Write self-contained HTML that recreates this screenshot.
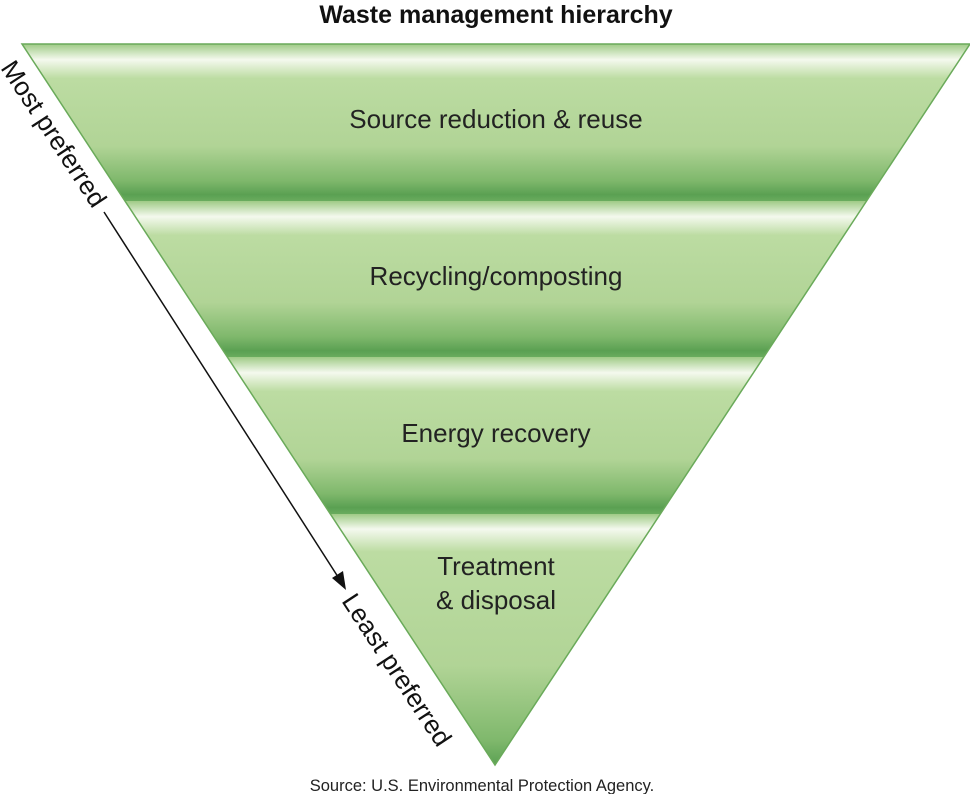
<!DOCTYPE html>
<html><head><meta charset="utf-8"><style>
html,body{margin:0;padding:0;background:#fff;}
svg{display:block;font-family:"Liberation Sans",sans-serif;}
</style></head><body>
<svg width="970" height="794" viewBox="0 0 970 794" xmlns="http://www.w3.org/2000/svg">
<defs>
<clipPath id="tri"><polygon points="22,44 970,44 495,765"/></clipPath>
<linearGradient id="band" x1="0" y1="0" x2="0" y2="1">
<stop offset="0" stop-color="#9fcb86"/>
<stop offset="0.1" stop-color="#f4f9ee"/>
<stop offset="0.22" stop-color="#bcdca2"/>
<stop offset="0.65" stop-color="#b1d496"/>
<stop offset="0.87" stop-color="#7fb86c"/>
<stop offset="0.96" stop-color="#5aa052"/>
<stop offset="1" stop-color="#6aac5e"/>
</linearGradient>
<linearGradient id="band4" x1="0" y1="0" x2="0" y2="1">
<stop offset="0" stop-color="#9fcb86"/>
<stop offset="0.06" stop-color="#f4f9ee"/>
<stop offset="0.15" stop-color="#bcdca2"/>
<stop offset="0.6" stop-color="#b1d496"/>
<stop offset="0.9" stop-color="#7fb86c"/>
<stop offset="1" stop-color="#5aa052"/>
</linearGradient>
</defs>
<text x="496" y="23" text-anchor="middle" font-size="25" font-weight="bold" fill="#111">Waste management hierarchy</text>
<g clip-path="url(#tri)">
<rect x="0" y="44" width="970" height="157" fill="url(#band)"/>
<rect x="0" y="201" width="970" height="156" fill="url(#band)"/>
<rect x="0" y="357" width="970" height="157" fill="url(#band)"/>
<rect x="0" y="514" width="970" height="252" fill="url(#band4)"/>
</g>
<polygon points="22,44 970,44 495,765" fill="none" stroke="#6aaa5a" stroke-width="1.5"/>
<g font-size="26" fill="#222" text-anchor="middle">
<text x="496" y="128">Source reduction &amp; reuse</text>
<text x="496" y="285">Recycling/composting</text>
<text x="496" y="442">Energy recovery</text>
<text x="496" y="575">Treatment</text>
<text x="496" y="609">&amp; disposal</text>
</g>
<g font-size="26" fill="#111">
<text transform="translate(0,68) rotate(56.7)">Most preferred</text>
<text transform="translate(341,601) rotate(56.7)">Least preferred</text>
</g>
<line x1="104" y1="212" x2="340" y2="580" stroke="#111" stroke-width="1.5"/>
<polygon points="346,590 332,578 343,571" fill="#111"/>
<text x="482" y="791" text-anchor="middle" font-size="16.5" fill="#222">Source: U.S. Environmental Protection Agency.</text>
</svg>
</body></html>
